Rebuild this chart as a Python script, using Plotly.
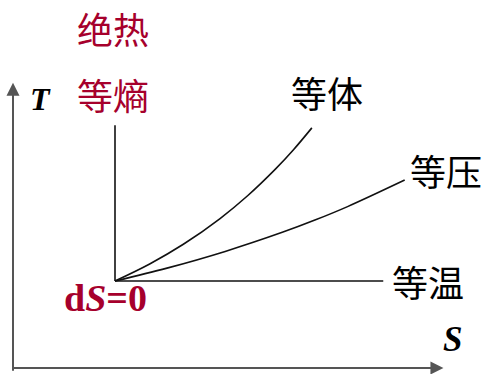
import plotly.graph_objects as go

# Data (S, T) in arbitrary units: origin state at S=1, T=1
isochoric_S = [1.00, 1.34, 1.67, 2.03, 2.30, 2.57, 2.75, 2.93]
isochoric_T = [1.00, 1.196, 1.422, 1.718, 1.98, 2.283, 2.509, 2.76]

isobaric_S = [1.00, 1.51, 2.08, 2.64, 2.96, 3.28, 3.84]
isobaric_T = [1.00, 1.148, 1.34, 1.559, 1.70, 1.855, 2.16]

isothermal_S = [1.00, 3.63]
isothermal_T = [1.00, 1.00]

isentropic_S = [1.00, 1.00]
isentropic_T = [1.00, 2.79]

axis_S_max = 4.22
axis_T_max = 3.28

RED = "#A6002C"
CJK = "Noto Sans CJK SC"
SERIF = "Liberation Serif"

fig = go.Figure()
line = dict(color="#111111", width=1.6)
for xs, ys in [(isentropic_S, isentropic_T), (isothermal_S, isothermal_T),
               (isobaric_S, isobaric_T), (isochoric_S, isochoric_T)]:
    fig.add_trace(go.Scatter(x=xs, y=ys, mode="lines", line=dict(**line, shape="spline", smoothing=1.0),
                             hoverinfo="skip", showlegend=False))

# axes arrows
fig.add_annotation(x=axis_S_max, y=0, ax=-0.01, ay=0, xref="x", yref="y", axref="x", ayref="y",
                   text="", showarrow=True, arrowhead=2, arrowsize=1.3, arrowwidth=2,
                   arrowcolor="#555555", standoff=0, startstandoff=0)
fig.add_annotation(x=0, y=axis_T_max, ax=0, ay=-0.05, xref="x", yref="y", axref="x", ayref="y",
                   text="", showarrow=True, arrowhead=2, arrowsize=1.3, arrowwidth=2,
                   arrowcolor="#555555", standoff=0, startstandoff=0)

labels = [
    ("绝热", 0.98, 3.908, RED, CJK, 36),
    ("等熵", 0.98, 3.149, RED, CJK, 36),
    ("等体", 3.078, 3.172, "#000000", CJK, 36),
    ("等压", 4.245, 2.276, "#000000", CJK, 36),
    ("等温", 4.069, 1.00, "#000000", CJK, 36),
    ("<b><i>T</i></b>", 0.265, 3.092, "#000000", SERIF, 32),
    ("<b><i>S</i></b>", 4.304, 0.333, "#000000", SERIF, 35),
    ("<b>d<i>S</i>=0</b>", 0.902, 0.805, RED, SERIF, 38),
]
for txt, x, y, c, fam, sz in labels:
    fig.add_annotation(x=x, y=y, xref="x", yref="y", text=txt, showarrow=False,
                       xanchor="center", yanchor="middle",
                       font=dict(color=c, family=fam, size=sz))

fig.update_layout(
    width=486, height=374, margin=dict(l=0, r=0, t=0, b=0),
    paper_bgcolor="white", plot_bgcolor="white",
    xaxis=dict(range=[-13/102, 473/102], visible=False, fixedrange=True),
    yaxis=dict(range=[-6/87, 368/87], visible=False, fixedrange=True),
)
fig.write_html("out.html", config={"displayModeBar": False},
               post_script="document.body.style.margin='0';document.body.style.overflow='hidden';")
